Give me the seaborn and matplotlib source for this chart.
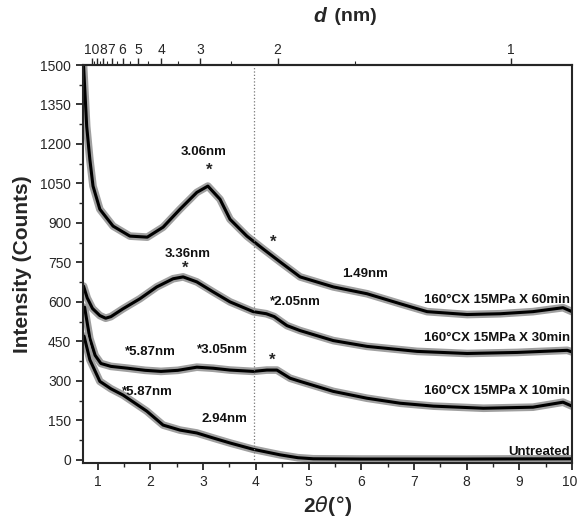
import matplotlib
matplotlib.use("Agg")
import matplotlib.pyplot as plt
from matplotlib.ticker import MultipleLocator, FixedLocator, NullFormatter
from matplotlib.transforms import ScaledTranslation
import numpy as np
import seaborn as sns

# 2-theta (deg) / intensity (counts)
tt_60 = [0.73, 0.79, 0.85, 0.91, 1.04, 1.29, 1.61, 1.94, 2.24, 2.56, 2.88, 3.09, 3.32, 3.51,
         3.83, 4.14, 4.46, 4.84, 5.47, 6.11, 6.74, 7.25, 8.01, 8.64, 9.26, 9.83, 10.0]
int_60 = [1500, 1267, 1141, 1040, 952, 888, 850, 846, 884, 952, 1016, 1040, 990, 914,
          850, 801, 752, 695, 657, 631, 593, 563, 552, 555, 563, 578, 563]

tt_30 = [0.73, 0.80, 0.90, 1.04, 1.15, 1.25, 1.48, 1.80, 2.12, 2.43, 2.62, 2.88, 3.19, 3.51,
         3.95, 4.20, 4.35, 4.59, 4.84, 5.47, 6.11, 7.06, 8.01, 8.96, 9.91, 10.0]
int_30 = [660, 615, 575, 548, 538, 544, 574, 612, 657, 688, 695, 676, 638, 600,
          563, 555, 544, 510, 491, 453, 431, 412, 404, 408, 416, 410]

tt_10 = [0.75, 0.80, 0.85, 0.95, 1.06, 1.25, 1.57, 1.90, 2.20, 2.52, 2.88, 3.19, 3.51,
         3.95, 4.21, 4.40, 4.65, 4.84, 5.47, 6.11, 6.74, 7.37, 8.32, 9.26, 9.83, 10.0]
int_10 = [580, 520, 461, 397, 366, 355, 348, 340, 336, 340, 352, 348, 341,
          336, 341, 341, 310, 298, 260, 234, 215, 204, 196, 200, 219, 204]

tt_un = [0.74, 0.85, 1.04, 1.25, 1.48, 1.93, 2.24, 2.56, 2.88, 3.19, 3.51, 3.95, 4.46,
         4.80, 5.09, 6.00, 8.00, 10.0]
int_un = [470, 380, 298, 270, 246, 185, 132, 113, 102, 83, 64, 40, 19,
          8, 4, 3, 3, 4]

curves = [(tt_60, int_60), (tt_30, int_30), (tt_10, int_10), (tt_un, int_un)]

sample_names = ['160°CX 15MPa X 60min', '160°CX 15MPa X 30min',
                '160°CX 15MPa X 10min', 'Untreated']
name_y = [606, 462, 262, 30]

tt_ticks = [1, 2, 3, 4, 5, 6, 7, 8, 9, 10]
d_ticks = [10, 9, 8, 7, 6, 5, 4, 3, 2, 1]
d_labels = ['10', '', '8', '7', '6', '5', '4', '3', '2', '1']
d_minor = [9.5, 8.5, 7.5, 6.5, 5.5, 4.5, 3.5, 2.5, 1.5]

WAVELENGTH = 0.15406  # nm, Cu K-alpha


def tt2d(x):
    x = np.clip(np.asarray(x, dtype=float), 0.05, None)
    return WAVELENGTH / (2 * np.sin(np.radians(x / 2)))


def d2tt(d):
    d = np.clip(np.asarray(d, dtype=float), 0.08, None)
    return 2 * np.degrees(np.arcsin(np.clip(WAVELENGTH / (2 * d), -1, 1)))


sns.set_style("ticks")
plt.rcParams['font.family'] = ['Liberation Sans', 'DejaVu Sans']

fig = plt.figure(figsize=(5.78, 5.26), dpi=100)
ax = fig.add_axes([0.1436, 0.1198, 0.8460, 0.7566])

# grey fringe under a black core, like the noisy scans
for tt, inten in curves:
    sns.lineplot(x=tt, y=inten, ax=ax, color='#a0a0a0', linewidth=5.5, sort=False, estimator=None)
    sns.lineplot(x=tt, y=inten, ax=ax, color='black', linewidth=2.2, sort=False, estimator=None)

ax.axvline(3.97, color='#777777', linestyle=':', linewidth=0.9)

ax.set_xlim(0.72, 10.0)
ax.set_ylim(-12, 1500)
ax.set_xticks(tt_ticks)
ax.set_xticklabels([str(t) for t in tt_ticks])
ax.xaxis.set_minor_locator(MultipleLocator(0.5))
ax.yaxis.set_major_locator(MultipleLocator(150))
ax.yaxis.set_minor_locator(MultipleLocator(75))
ax.tick_params(which='major', direction='out', length=5, width=1.3, labelsize=10)
ax.tick_params(which='minor', direction='out', length=3, width=1.0)
for sp in ax.spines.values():
    sp.set_linewidth(1.5)

# keep the last bottom label inside the canvas
last = ax.get_xticklabels()[-1]
last.set_ha('right')
last.set_transform(last.get_transform() + ScaledTranslation(5 / 100, 0, fig.dpi_scale_trans))

ax.set_xlabel(r'2$\theta$($\degree$)', fontsize=15, fontweight='bold', labelpad=4)
ax.set_ylabel('Intensity (Counts)', fontsize=15, fontweight='bold', labelpad=6)

secax = ax.secondary_xaxis('top', functions=(tt2d, d2tt))
secax.xaxis.set_major_locator(FixedLocator(d_ticks))
secax.set_xticklabels(d_labels)
secax.xaxis.set_minor_locator(FixedLocator(d_minor))
secax.xaxis.set_minor_formatter(NullFormatter())
secax.tick_params(which='major', direction='out', length=5, width=1.0, labelsize=10, pad=1)
secax.tick_params(which='minor', direction='out', length=3, width=0.8)
secax.spines['top'].set_linewidth(1.5)
fig.text(0.565, 0.968, 'd', fontsize=15, fontweight='bold', fontstyle='italic', ha='right', va='center')
fig.text(0.570, 0.968, ' (nm)', fontsize=14, fontweight='bold', ha='left', va='center')

txt = dict(fontsize=9.5, fontweight='bold', color='#111111')
star = dict(ha='center', va='center', fontsize=12, fontweight='bold')
ax.text(3.0, 1171, '3.06nm', ha='center', va='center', **txt)
ax.text(3.11, 1100, '*', **star)
ax.text(4.33, 825, '*', **star)
ax.text(6.07, 706, '1.49nm', ha='center', va='center', **txt)
ax.text(2.71, 782, '3.36nm', ha='center', va='center', **txt)
ax.text(2.66, 728, '*', **star)
ax.text(4.27, 600, '*2.05nm', ha='left', va='center', **txt)
ax.text(1.52, 408, '*5.87nm', ha='left', va='center', **txt)
ax.text(2.88, 419, '*3.05nm', ha='left', va='center', **txt)
ax.text(4.31, 380, '*', **star)
ax.text(1.46, 257, '*5.87nm', ha='left', va='center', **txt)
ax.text(3.4, 155, '2.94nm', ha='center', va='center', **txt)

for name, ny in zip(sample_names, name_y):
    ax.text(9.96, ny, name, ha='right', va='center', **txt)

fig.savefig('out.png', dpi=100)
